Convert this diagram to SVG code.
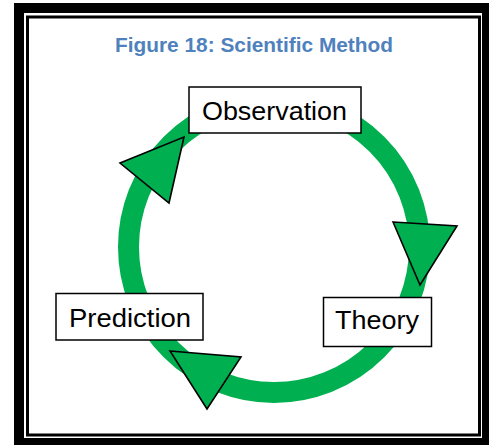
<svg xmlns="http://www.w3.org/2000/svg" width="491" height="446" viewBox="0 0 491 446">
<style>
.box{fill:#fff;stroke:#000;stroke-width:1.5}
.lbl{font-family:"Liberation Sans",Arial,sans-serif;font-size:25px;fill:#000}
.head{fill:#00B050;stroke:#000;stroke-width:1.6;stroke-linejoin:miter}
</style>
<rect width="491" height="446" fill="#fff"/>
<path d="M14,3H489V445H14Z M24,13V438H482V13Z" fill="#000" fill-rule="evenodd"/>
<rect x="27.5" y="17" width="452" height="418" fill="none" stroke="#000" stroke-width="3"/>
<text x="254" y="52" text-anchor="middle" font-family="'Liberation Sans',Arial,sans-serif" font-weight="bold" font-size="20" fill="#4F81BD" textLength="278" lengthAdjust="spacingAndGlyphs">Figure 18: Scientific Method</text>
<g id="connectors">
<circle cx="274" cy="247" r="145.5" fill="none" stroke="#00B050" stroke-width="21"/>
<polygon class="head" points="120,163 184,137 169,203"/>
<polygon class="head" points="393,222 457,226 420,285"/>
<polygon class="head" points="170,351 241,357 207,409"/>
</g>
<g id="observation">
<rect class="box" x="189" y="87" width="172" height="46"/>
<text class="lbl" x="202" y="120" textLength="145" lengthAdjust="spacingAndGlyphs">Observation</text>
</g>
<g id="theory">
<rect class="box" x="323.5" y="297.5" width="108" height="49"/>
<text class="lbl" x="335" y="328.5" textLength="84" lengthAdjust="spacingAndGlyphs">Theory</text>
</g>
<g id="prediction">
<rect class="box" x="56" y="293.5" width="147" height="46.5"/>
<text class="lbl" x="69" y="326.5" textLength="122" lengthAdjust="spacingAndGlyphs">Prediction</text>
</g>
</svg>
